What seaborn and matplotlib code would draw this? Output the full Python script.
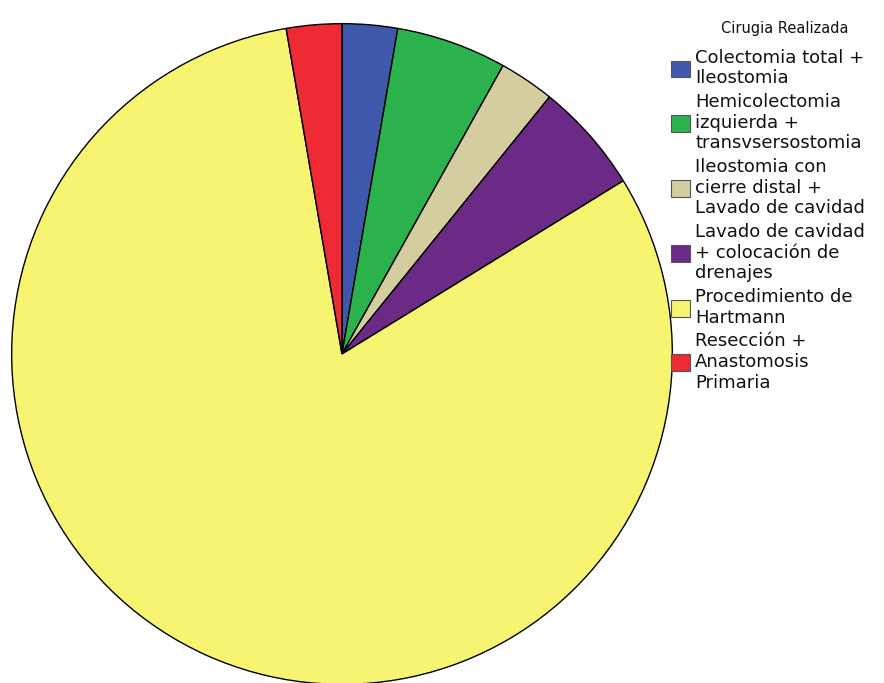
import matplotlib
matplotlib.use('Agg')
import matplotlib.pyplot as plt
import seaborn as sns

# Cirugia realizada (counts)
categories = [
    "Colectomia total +\nIleostomia",
    "Hemicolectomia\nizquierda +\ntransvsersostomia",
    "Ileostomia con\ncierre distal +\nLavado de cavidad",
    "Lavado de cavidad\n+ colocación de\ndrenajes",
    "Procedimiento de\nHartmann",
    "Resección +\nAnastomosis\nPrimaria",
]
counts = [1, 2, 1, 2, 30, 1]
colors = ["#3e58ac", "#2bb24c", "#d3cda0", "#6a2a85", "#f6f471", "#ee2a35"]

sns.set_theme(style="white")
plt.rcParams['font.family'] = ['DejaVu Sans']
plt.rcParams['text.color'] = '#111111'

fig = plt.figure(figsize=(8.84, 6.83), dpi=100)
ax = fig.add_axes([11 / 884, -2 / 683, 662 / 884, 662 / 683])
wedges, _ = ax.pie(counts, colors=colors, startangle=90, counterclock=False,
                   radius=1.0, wedgeprops=dict(edgecolor='black', linewidth=1.0))
ax.set_xlim(-1.002, 1.002)
ax.set_ylim(-1.002, 1.002)
ax.set_aspect('equal')
ax.axis('off')

fig.text(785 / 884, 1 - 28 / 683, "Cirugia Realizada", fontsize=10.5,
         ha='center', va='center')
leg = fig.legend(wedges, categories,
                 loc='upper left', bbox_to_anchor=(658 / 884, 1 - 36 / 683),
                 frameon=False, fontsize=13,
                 handlelength=1.05, handleheight=1.05, handletextpad=0.3,
                 labelspacing=0.3, borderpad=0.2)
for h in leg.legend_handles:
    h.set_edgecolor('#555555')
    h.set_linewidth(0.8)

fig.savefig('out.png', dpi=100)
